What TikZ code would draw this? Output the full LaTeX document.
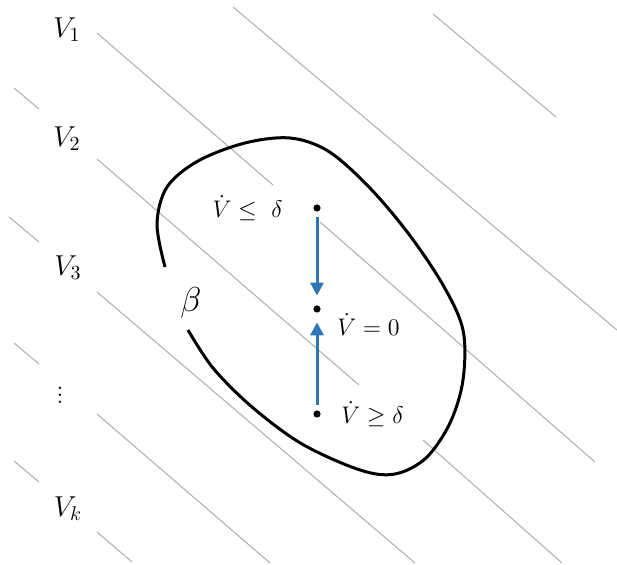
\documentclass[tikz,border=0pt]{standalone}
\usepackage{xcolor}
\usepackage{amsmath}
\usepackage{tikz}
\usetikzlibrary{arrows.meta, positioning}
\definecolor{myblue}{RGB}{46,117,182}
\definecolor{mygrey}{RGB}{178,178,178}
\tikzset{
  isoline/.style={draw=mygrey, line width=0.55pt},
  blob/.style={draw=black, line width=1.5pt, line join=round},
  eqpoint/.style={circle, fill=black, inner sep=0pt, minimum size=3.6pt},
  vlabel/.style={font=\fontsize{14.5}{17}\selectfont},
  rate/.style={font=\fontsize{12}{14}\selectfont, inner sep=1pt},
  arrow/.style={-{Triangle[length=6.5pt, width=6.5pt]}, line width=1.5pt, color=myblue}
}
\begin{document}
\begin{tikzpicture}[x=0.5pt, y=-0.5pt, node distance=8pt]
  \useasboundingbox (0,0) rectangle (617,565);

  % Level sets of V
  \draw[isoline] (97,33) -- (273,185);
  \draw[isoline] (320,222) -- (595,462);
  \draw[isoline] (233,7) -- (617,330);
  \draw[isoline] (433,14) -- (556,117);
  \draw[isoline] (14,88) -- (39,109);
  \draw[isoline] (97,159) -- (359,385);
  \draw[isoline] (423,440) -- (562,563);
  \draw[isoline] (9,217) -- (39,242);
  \draw[isoline] (97,292) -- (415,563);
  \draw[isoline] (14,343) -- (39,364);
  \draw[isoline] (97,414) -- (270,563);
  \draw[isoline] (14,461) -- (39,482);
  \draw[isoline] (97,532) -- (132,562);

  % Level labels
  \node[vlabel] (v1) at (67,30) {$V_1$};
  \node[vlabel] (v2) at (67,139) {$V_2$};
  \node[vlabel] (v3) at (68,268) {$V_3$};
  \node[vlabel] (vdots) at (60,390) {\scalebox{0.85}{\boldmath$\vdots$}};
  \node[vlabel] (vk) at (68,509) {$V_k$};

  % Region beta
  \draw[blob] plot[smooth, tension=0.55] coordinates {
    (165,267) (157,224) (167,187) (198,161) (245,143) (290,138)
    (328,151) (368,186) (408,233) (443,285) (463,330) (463,380)
    (450,423) (426,458) (395,474) (360,470) (302,444) (252,407)
    (213,368) (188,330)};
  \node[font=\fontsize{19}{22}\selectfont] (beta) at (191,303) {$\beta$};

  % Points and flow
  \node[eqpoint] (ptop) at (317,208) {};
  \node[eqpoint] (pmid) at (317,309) {};
  \node[eqpoint] (pbot) at (317,414) {};
  \node[rate, left=14pt of ptop] (ltop) {$\dot V \leq\ \delta$};
  \node[rate, right=7pt of pmid, yshift=-8pt] (lmid) {$\dot V = 0$};
  \node[rate, right=9pt of pbot] (lbot) {$\dot V \geq \delta$};
  \draw[arrow, shorten <=2.7pt, shorten >=4.7pt] (ptop) -- (pmid);
  \draw[arrow, shorten <=2.7pt, shorten >=4.7pt] (pbot) -- (pmid);
\end{tikzpicture}
\end{document}
